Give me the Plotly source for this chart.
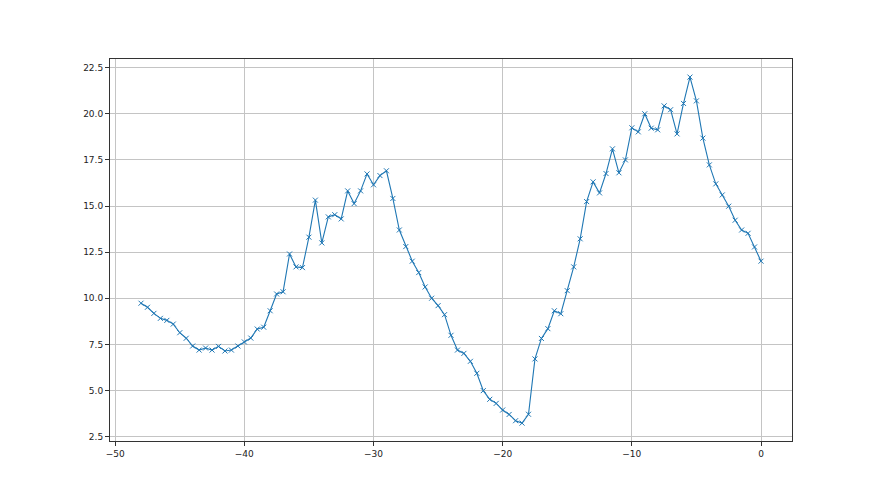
import plotly.graph_objects as go

x_values = [i * 0.5 - 48 for i in range(97)]
y_values = [
    9.73, 9.51, 9.18, 8.91, 8.80, 8.60, 8.13, 7.83, 7.41, 7.19,
    7.30, 7.19, 7.39, 7.14, 7.19, 7.41, 7.63, 7.84, 8.33, 8.43,
    9.32, 10.23, 10.35, 12.40, 11.70, 11.66, 13.31, 15.32, 13.00, 14.41,
    14.53, 14.30, 15.82, 15.13, 15.82, 16.74, 16.15, 16.65, 16.91, 15.41,
    13.70, 12.80, 12.01, 11.39, 10.61, 10.00, 9.60, 9.11, 7.99, 7.19,
    7.01, 6.58, 5.93, 4.99, 4.52, 4.30, 3.94, 3.70, 3.36, 3.23,
    3.71, 6.71, 7.82, 8.35, 9.32, 9.16, 10.41, 11.70, 13.22, 15.24,
    16.31, 15.71, 16.76, 18.10, 16.80, 17.50, 19.24, 19.02, 20.00, 19.22,
    19.13, 20.43, 20.22, 18.91, 20.56, 21.99, 20.70, 18.68, 17.23, 16.20,
    15.60, 14.99, 14.23, 13.70, 13.52, 12.78, 12.01,
]
x_ticks = [-50, -40, -30, -20, -10, 0]
x_tick_labels = ["\u221250", "\u221240", "\u221230", "\u221220", "\u221210", "0"]
y_ticks = [2.5, 5.0, 7.5, 10.0, 12.5, 15.0, 17.5, 20.0, 22.5]
y_tick_labels = ["2.5", "5.0", "7.5", "10.0", "12.5", "15.0", "17.5", "20.0", "22.5"]

color = "#1f77b4"
fig = go.Figure(
    go.Scatter(
        x=x_values,
        y=y_values,
        mode="lines+markers",
        line=dict(color=color, width=1.1),
        marker=dict(symbol="x-thin", size=5, color=color,
                    line=dict(width=1, color=color)),
        showlegend=False,
    )
)

axis_common = dict(
    showgrid=True,
    gridcolor="#c4c4c4",
    gridwidth=0.8,
    showline=True,
    linecolor="#333333",
    linewidth=1,
    mirror=True,
    ticks="outside",
    ticklen=4,
    tickwidth=1,
    tickcolor="#333333",
    zeroline=False,
    tickfont=dict(family="DejaVu Sans", size=9, color="#222222"),
)

fig.update_xaxes(range=[-50.4, 2.4], tickvals=x_ticks, ticktext=x_tick_labels, **axis_common)
fig.update_yaxes(range=[2.26, 22.97], tickvals=y_ticks, ticktext=y_tick_labels, **axis_common)

fig.update_layout(
    width=880,
    height=495,
    margin=dict(l=102, r=96, t=51, b=62),
    paper_bgcolor="white",
    plot_bgcolor="white",
)

fig.write_html("out.html")
